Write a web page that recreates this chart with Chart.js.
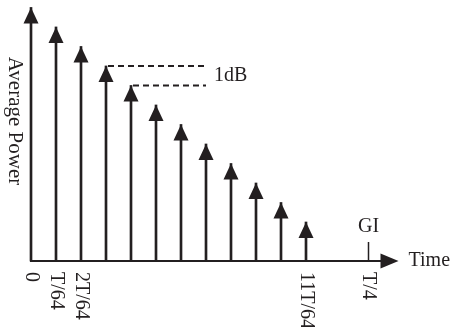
<!DOCTYPE html>
<html>
<head>
<meta charset="utf-8">
<script src="https://cdn.jsdelivr.net/npm/chart.js@4/dist/chart.umd.min.js"></script>
<style>
  html, body { margin: 0; padding: 0; background: #ffffff; }
  #wrap { width: 451px; height: 327px; position: relative; }
</style>
</head>
<body>
<div id="wrap"><canvas id="c" width="451" height="327"></canvas></div>
<script>
// ---- data ----
const slotIndex   = [0, 1, 2, 3, 4, 5, 6, 7, 8, 9, 10, 11];          // multiples of T/64
const powerLevels = [13, 12, 11, 10, 9, 8, 7, 6, 5, 4, 3, 2];        // average power (1 dB steps)
const tickValues  = [0, 1, 2, 11, 13.5];
const tickLabels  = ['0', 'T/64', '2T/64', '11T/64', 'T/4'];
const giPosition  = 13.5;
const axisEnd     = 14.7;
const dbMarkEnd   = 7;
const yTitle      = 'Average Power';
const xTitle      = 'Time';
const giLabel     = 'GI';
const dbLabel     = '1dB';

const INK = '#231f20';
const SERIF = "'Liberation Serif', 'Times New Roman', serif";

const stemPlugin = {
  id: 'stemDecor',
  afterDatasetsDraw(chart) {
    const ctx = chart.ctx;
    const xs = chart.scales.x, ys = chart.scales.y;
    const y0 = ys.getPixelForValue(0);
    ctx.save();
    ctx.fillStyle = INK;
    ctx.strokeStyle = INK;

    // x axis with arrow
    const xStart = xs.getPixelForValue(0);
    const xEnd = xs.getPixelForValue(axisEnd);
    ctx.lineWidth = 2;
    ctx.beginPath();
    ctx.moveTo(xStart - 1, y0);
    ctx.lineTo(xEnd - 16, y0);
    ctx.stroke();
    ctx.beginPath();
    ctx.moveTo(xEnd, y0);
    ctx.lineTo(xEnd - 18, y0 - 7.5);
    ctx.lineTo(xEnd - 18, y0 + 7.5);
    ctx.closePath();
    ctx.fill();

    // arrow heads on stems
    slotIndex.forEach((s, i) => {
      const px = xs.getPixelForValue(s);
      const py = ys.getPixelForValue(powerLevels[i]);
      ctx.beginPath();
      ctx.moveTo(px, py);
      ctx.lineTo(px - 7.5, py + 16);
      ctx.lineTo(px + 7.5, py + 16);
      ctx.closePath();
      ctx.fill();
    });

    // dashed 1 dB marks
    ctx.setLineDash([6, 4]);
    ctx.lineWidth = 2;
    [3, 4].forEach(i => {
      const px = xs.getPixelForValue(slotIndex[i]) + 2;
      const py = ys.getPixelForValue(powerLevels[i]);
      ctx.beginPath();
      ctx.moveTo(px, py);
      ctx.lineTo(xs.getPixelForValue(dbMarkEnd), py);
      ctx.stroke();
    });
    ctx.setLineDash([]);

    // GI tick
    const gx = xs.getPixelForValue(giPosition);
    ctx.lineWidth = 1.5;
    ctx.beginPath();
    ctx.moveTo(gx, y0);
    ctx.lineTo(gx, y0 - 19);
    ctx.stroke();

    // texts
    ctx.font = '20px ' + SERIF;
    ctx.textBaseline = 'middle';
    ctx.textAlign = 'center';
    ctx.fillText(giLabel, gx, y0 - 34);
    ctx.textAlign = 'left';
    ctx.fillText(xTitle, xEnd + 10, y0);
    const dbY = (ys.getPixelForValue(powerLevels[3]) + ys.getPixelForValue(powerLevels[4])) / 2;
    ctx.fillText(dbLabel, xs.getPixelForValue(dbMarkEnd) + 8, dbY);

    // rotated tick labels (clockwise)
    tickValues.forEach((v, i) => {
      ctx.save();
      ctx.translate(xs.getPixelForValue(v), y0 + 11);
      ctx.rotate(Math.PI / 2);
      ctx.textAlign = 'left';
      ctx.textBaseline = 'middle';
      ctx.fillText(tickLabels[i], 0, 0);
      ctx.restore();
    });

    // y title (clockwise)
    ctx.save();
    ctx.font = '21px ' + SERIF;
    ctx.translate(15, 121);
    ctx.rotate(Math.PI / 2);
    ctx.textAlign = 'center';
    ctx.textBaseline = 'middle';
    ctx.fillText(yTitle, 0, 0);
    ctx.restore();

    ctx.restore();
  }
};

new Chart(document.getElementById('c'), {
  type: 'bar',
  data: {
    datasets: [{
      data: slotIndex.map((s, i) => ({ x: s, y: powerLevels[i] })),
      backgroundColor: INK,
      borderWidth: 0,
      barThickness: 2,
      clip: false
    }]
  },
  options: {
    responsive: false,
    animation: false,
    events: [],
    layout: { padding: { left: 31, right: 45, top: 1, bottom: 66 } },
    plugins: { legend: { display: false }, tooltip: { enabled: false } },
    scales: {
      x: { type: 'linear', min: 0, max: 15, display: false, offset: false },
      y: { type: 'linear', min: 0, max: 13.33, display: false }
    }
  },
  plugins: [stemPlugin]
});
</script>
</body>
</html>
